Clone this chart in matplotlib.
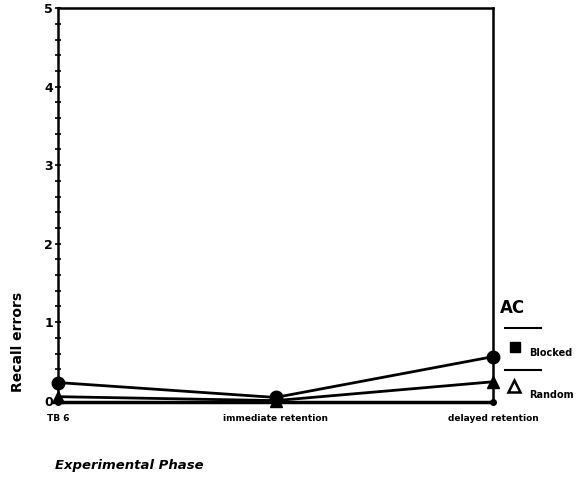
import matplotlib.pyplot as plt
from matplotlib.lines import Line2D
from matplotlib.ticker import MultipleLocator

# data
phases = ['TB 6', 'immediate retention', 'delayed retention']
blocked = [0.23, 0.04, 0.56]
random_ = [0.05, 0.0, 0.24]
baseline = [-0.02, -0.02, -0.02]
y_ticks = [0, 1, 2, 3, 4, 5]

fig = plt.figure(figsize=(5.85, 4.78), dpi=100)
ax = fig.add_axes([0.099, 0.157, 0.744, 0.826])
x = list(range(len(phases)))

ax.plot(x, blocked, color='black', lw=2, marker='o', ms=9, clip_on=False)
ax.plot(x, random_, color='black', lw=2, marker='^', ms=9, clip_on=False)
ax.plot(x, baseline, color='black', lw=2.5, marker='o', ms=4, clip_on=False)

ax.set_xlim(0, 2)
ax.set_ylim(-0.03, 5)
ax.set_yticks(y_ticks)
ax.set_yticklabels([str(t) for t in y_ticks], fontweight='bold', fontsize=9)
ax.yaxis.set_minor_locator(MultipleLocator(0.2))
ax.tick_params(axis='y', which='both', direction='inout', length=5, width=1.2, pad=1)
ax.set_xticks(x)
ax.set_xticklabels(phases, fontsize=6.5, fontweight='bold')
ax.tick_params(axis='x', length=0, pad=8)
for lab in ax.get_xticklabels()[:1]:
    lab.set_ha('center')
for s in ax.spines.values():
    s.set_linewidth(1.8)
ax.spines['bottom'].set_visible(False)

fig.text(0.03, 0.285, 'Recall errors', rotation=90, ha='center', va='center',
         fontsize=10, fontweight='bold')
fig.text(0.094, 0.027, 'Experimental Phase', ha='left', va='center',
         fontsize=9.5, fontstyle='italic', fontweight='bold')

# hand-drawn legend on the right
fig.text(0.855, 0.355, 'AC', fontsize=12, fontweight='bold', va='center')
fig.add_artist(Line2D([0.863, 0.925], [0.314, 0.314], color='black', lw=1.5))
fig.add_artist(Line2D([0.863, 0.925], [0.226, 0.226], color='black', lw=1.5))
fig.add_artist(Line2D([0.88], [0.274], marker='s', color='black', ms=7))
fig.add_artist(Line2D([0.878], [0.193], marker='^', mfc='white', mec='black', mew=1.8, ms=8))
fig.text(0.905, 0.262, 'Blocked', fontsize=7, fontweight='bold', va='center')
fig.text(0.905, 0.174, 'Random', fontsize=7, fontweight='bold', va='center')

fig.savefig('out.png', dpi=100, facecolor='white')
